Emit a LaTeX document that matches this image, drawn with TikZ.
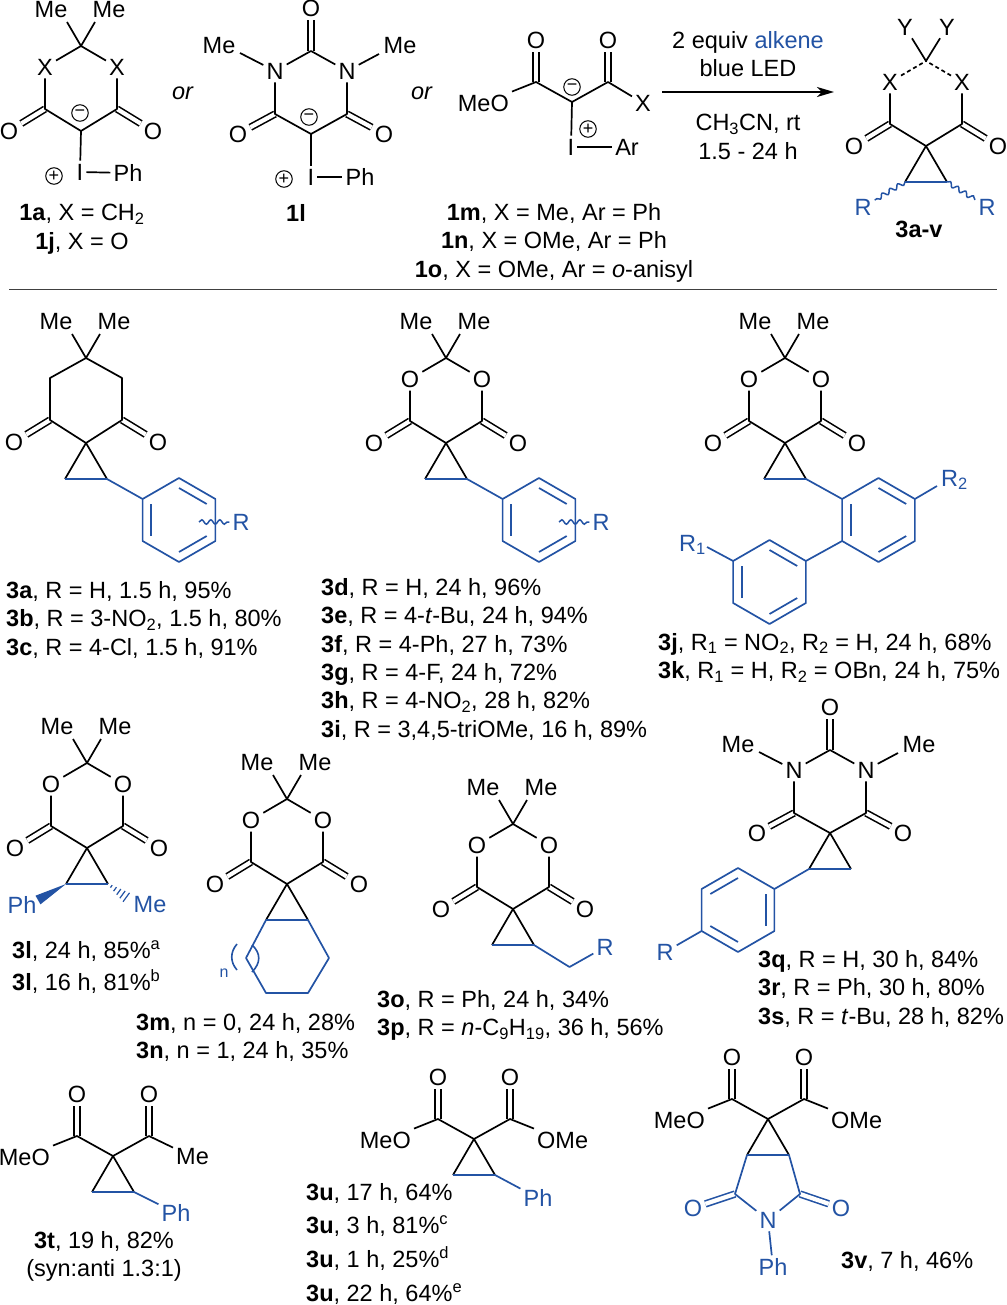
\documentclass[tikz,border=0pt]{standalone}
\usepackage{fontspec}
\setmainfont{Liberation Sans}
\usetikzlibrary{arrows.meta,calc,decorations.pathmorphing}
\definecolor{alkene}{HTML}{2353A4}

\tikzset{
  every node/.style={font=\fontsize{23.5}{28.4}\selectfont},
  bond/.style={draw,line width=1.7pt,line join=round},
  dashbond/.style={bond,dash pattern=on 4pt off 3pt},
  bluebond/.style={bond,alkene},
  dbl/.style={draw,double,double distance=4.2pt,line width=1.6pt},
  dblblue/.style={dbl,alkene},
  wavy/.style={draw,alkene,line width=1.5pt,decorate,decoration={snake,amplitude=2.2pt,segment length=9pt}},
  atom/.style={inner sep=3pt},
  atomblue/.style={atom,text=alkene},
  charge/.style={circle,draw,line width=1pt,inner sep=0pt,minimum size=16.5pt,font=\fontsize{18}{18}\selectfont},
  yieldtext/.style={anchor=north west,align=left,inner sep=0pt},
  midtext/.style={anchor=north,align=center,inner sep=0pt}
}

\newcommand{\dione}[4][bond]{
  \begin{scope}[shift={#2},name prefix=#3-]
    \coordinate (s) at (0,0);
    \coordinate (t) at (0,-85);
    \coordinate (cl) at (-36,-22);
    \coordinate (cr) at (36,-22);
    \node[atom] (hl) at (-36,-64) {#4};
    \node[atom] (hr) at (36,-64) {#4};
    \node[atom] (ol) at (-72,0) {O};
    \node[atom] (or) at (72,0) {O};
    \draw[dbl] (cl) -- (ol);
    \draw[dbl] (cr) -- (or);
    \draw[#1] (hl) -- (t);
    \draw[#1] (hr) -- (t);
    \draw[bond] (hl) -- (cl) -- (s) -- (cr) -- (hr);
  \end{scope}}
\newcommand{\gemMe}[1]{
  \begin{scope}[shift={(#1-s)},name prefix=#1-]
    \node[atom] (mel) at (-30,-121) {Me};
    \node[atom] (mer) at (28,-121) {Me};
    \coordinate (el) at (-14,-109);
    \coordinate (er) at (14,-109);
    \draw[bond] (el) -- (t) -- (er);
  \end{scope}}
\newcommand{\barb}[2]{
  \begin{scope}[shift={#1},name prefix=#2-]
    \coordinate (s) at (0,0);
    \coordinate (t) at (0,-83);
    \coordinate (cl) at (-36,-20);
    \coordinate (cr) at (36,-20);
    \coordinate (el) at (-71,-81);
    \coordinate (er) at (68,-80);
    \node[atom] (hl) at (-36,-63) {N};
    \node[atom] (hr) at (36,-63) {N};
    \node[atom] (ot) at (0,-126) {O};
    \node[atom] (ol) at (-73,0) {O};
    \node[atom] (or) at (73,0) {O};
    \node[atom] (mel) at (-92,-88) {Me};
    \node[atom] (mer) at (89,-88) {Me};
    \draw[dbl] (cl) -- (ol);
    \draw[dbl] (cr) -- (or);
    \draw[dbl] (t) -- (ot);
    \draw[bond] (hl) -- (t) -- (hr);
    \draw[bond] (hl) -- (cl) -- (s) -- (cr) -- (hr);
    \draw[bond] (hl) -- (el);
    \draw[bond] (hr) -- (er);
  \end{scope}}
\newcommand{\diacyl}[4]{
  \begin{scope}[shift={#1},name prefix=#2-]
    \coordinate (s) at (0,0);
    \coordinate (cl) at (-36,-20);
    \coordinate (cr) at (36,-20);
    \node[atom] (ol) at (-36,-62) {O};
    \node[atom] (or) at (36,-62) {O};
    \node[atom,anchor=east] (gl) at (-60,1) {#3};
    \node[atom,anchor=west] (gr) at (60,1) {#4};
    \draw[dbl] (cl) -- (ol);
    \draw[dbl] (cr) -- (or);
    \draw[bond] (gl) -- (cl) -- (s) -- (cr) -- (gr);
  \end{scope}}
\newcommand{\cyclopr}[1]{
  \begin{scope}[shift={(#1-s)},name prefix=#1-]
    \coordinate (pl) at (-21,36);
    \coordinate (pr) at (21,36);
    \draw[bond] (pl) -- (s) -- (pr);
    \draw[bluebond] (pl) -- (pr);
  \end{scope}}
\newcommand{\arene}[3]{
  \begin{scope}[shift={#1},name prefix=#2-]
    \foreach \a in {30,90,...,330} \coordinate (v\a) at (\a:42);
    \draw[bluebond] (v30) -- (v90) -- (v150) -- (v210) -- (v270) -- (v330) -- cycle;
    \foreach \a in {0,120,240} \draw[bluebond] (#3+\a:32) -- (#3+\a+60:32);
  \end{scope}}

\begin{document}
\begin{tikzpicture}[x=1pt,y=-1pt]
  \useasboundingbox (0,0) rectangle (1006,1305);

  \dione{(81,131)}{ia}{X}
  \gemMe{ia}
  \node[charge] (ia-neg) at (80,113) {−};
  \node[atom] (ia-i) at (80,172) {I};
  \node[atom] (ia-ph) at (128,173) {Ph};
  \node[charge] (ia-pos) at (54,176) {+};
  \draw[bond] (ia-s) -- (ia-i);
  \draw[bond] (ia-i) -- (ia-ph);
  \node[midtext] (cap1a) at (82,204) {\textbf{1a}, X = CH\textsubscript{2}\\\textbf{1j}, X = O};
  \node[atom] (or1) at (183,93) {\textit{or}};

  \barb{(311,134)}{il}
  \node[charge] (il-neg) at (309,117) {−};
  \node[atom] (il-i) at (311,177) {I};
  \node[atom] (il-ph) at (360,177) {Ph};
  \node[charge] (il-pos) at (284,179) {+};
  \draw[bond] (il-s) -- (il-i);
  \draw[bond] (il-i) -- (il-ph);
  \node[midtext] (cap1l) at (296,204) {\textbf{1l}};
  \node[atom] (or2) at (422,93) {\textit{or}};

  \diacyl{(572,102)}{im}{MeO}{X}
  \node[charge] (im-neg) at (572,87) {−};
  \node[atom] (im-i) at (571,147) {I};
  \node[atom] (im-ar) at (627,147) {Ar};
  \node[charge] (im-pos) at (588,129) {+};
  \draw[bond] (im-s) -- (im-i);
  \draw[bond] (im-i) -- (im-ar);
  \node[midtext] (cap1m) at (554,203) {\textbf{1m}, X = Me, Ar = Ph\\\textbf{1n}, X = OMe, Ar = Ph\\\textbf{1o}, X = OMe, Ar = \textit{o}-anisyl};

  \coordinate (arrowstart) at (662,92);
  \coordinate (arrowend) at (834,92);
  \draw[line width=1.6pt,-{Stealth[length=17pt,width=10pt,inset=5pt]}] (arrowstart) -- (arrowend);
  \node[midtext] (above) at (748,31) {2 equiv \textcolor{alkene}{alkene}\\blue LED};
  \node[midtext] (below) at (748,114) {CH\textsubscript{3}CN, rt\\1.5 - 24 h};

  \dione[dashbond]{(926,146)}{p}{X}
  \cyclopr{p}
  \node[atom] (p-yl) at (905,27) {Y};
  \node[atom] (p-yr) at (947,27) {Y};
  \draw[bond] (p-yl) -- (p-t) -- (p-yr);
  \node[atomblue] (p-rl) at (863,207) {R};
  \node[atomblue] (p-rr) at (987,207) {R};
  \draw[wavy] (p-pl) -- (p-rl);
  \draw[wavy] (p-pr) -- (p-rr);
  \node[midtext] (cap3av) at (919,221) {\textbf{3a-v}};

  \coordinate (rulel) at (9,290);
  \coordinate (ruler) at (997,290);
  \draw[line width=1pt,black!75] (rulel) -- (ruler);

  \coordinate (a-s) at (86,443);
  \coordinate (a-t) at (86,358);
  \coordinate (a-ul) at (50,378);
  \coordinate (a-ur) at (122,378);
  \coordinate (a-ll) at (50,420);
  \coordinate (a-lr) at (122,420);
  \node[atom] (a-ol) at (14,442) {O};
  \node[atom] (a-or) at (158,442) {O};
  \draw[dbl] (a-ll) -- (a-ol);
  \draw[dbl] (a-lr) -- (a-or);
  \draw[bond] (a-s) -- (a-ll) -- (a-ul) -- (a-t) -- (a-ur) -- (a-lr) -- cycle;
  \gemMe{a}
  \cyclopr{a}
  \arene{(179,520)}{aar}{30}
  \draw[bluebond] (a-pr) -- (aar-v210);
  \coordinate (a-w) at (199,522);
  \node[atomblue] (a-r) at (241,522) {R};
  \draw[wavy] (a-w) -- (a-r);
  \node[yieldtext] (cap3a) at (6,581) {\textbf{3a}, R = H, 1.5 h, 95\%\\\textbf{3b}, R = 3-NO\textsubscript{2}, 1.5 h, 80\%\\\textbf{3c}, R = 4-Cl, 1.5 h, 91\%};

  \dione{(446,443)}{d}{O}
  \gemMe{d}
  \cyclopr{d}
  \arene{(539,520)}{dar}{30}
  \draw[bluebond] (d-pr) -- (dar-v210);
  \coordinate (d-w) at (559,522);
  \node[atomblue] (d-r) at (601,522) {R};
  \draw[wavy] (d-w) -- (d-r);
  \node[yieldtext] (cap3d) at (321,578) {\textbf{3d}, R = H, 24 h, 96\%\\\textbf{3e}, R = 4-\textit{t}-Bu, 24 h, 94\%\\\textbf{3f}, R = 4-Ph, 27 h, 73\%\\\textbf{3g}, R = 4-F, 24 h, 72\%\\\textbf{3h}, R = 4-NO\textsubscript{2}, 28 h, 82\%\\\textbf{3i}, R = 3,4,5-triOMe, 16 h, 89\%};

  \dione{(785,443)}{j}{O}
  \gemMe{j}
  \cyclopr{j}
  \arene{(878.5,520)}{jar}{30}
  \arene{(769.5,582)}{jbr}{30}
  \draw[bluebond] (j-pr) -- (jar-v210);
  \draw[bluebond] (jar-v150) -- (jbr-v330);
  \coordinate (j-e2) at (937,486);
  \coordinate (j-e1) at (707,547);
  \draw[bluebond] (jar-v330) -- (j-e2);
  \draw[bluebond] (jbr-v210) -- (j-e1);
  \node[anchor=base west,inner sep=0pt,text=alkene] (j-r2) at (941,486) {R\textsubscript{2}};
  \node[anchor=base west,inner sep=0pt,text=alkene] (j-r1) at (679,551) {R\textsubscript{1}};
  \node[yieldtext] (cap3j) at (658,633) {\textbf{3j}, R\textsubscript{1} = NO\textsubscript{2}, R\textsubscript{2} = H, 24 h, 68\%\\\textbf{3k}, R\textsubscript{1} = H, R\textsubscript{2} = OBn, 24 h, 75\%};

  \dione{(87,848)}{l}{O}
  \gemMe{l}
  \cyclopr{l}
  \node[atomblue] (l-ph) at (22,905) {Ph};
  \node[atomblue] (l-me) at (150,905) {Me};
  \coordinate (l-we) at (38,900);
  \coordinate (l-ha) at (130,900);
  \fill[alkene] (l-pl) -- ($(l-we)!5pt!90:(l-pl)$) -- ($(l-we)!5pt!-90:(l-pl)$) -- cycle;
  \foreach \t/\w in {.15/1.5,.32/2.5,.49/3.5,.66/4.5,.83/5.5,1/6.5}
    \draw[alkene,line width=1.2pt] ($(l-pr)!\t!(l-ha)!\w pt!90:(l-ha)$) -- ($(l-pr)!\t!(l-ha)!\w pt!-90:(l-ha)$);
  \node[yieldtext] (cap3l) at (12,940) {\textbf{3l}, 24 h, 85\%\textsuperscript{a}\\[4.5pt]\textbf{3l}, 16 h, 81\%\textsuperscript{b}};

  \dione{(287,884)}{m}{O}
  \gemMe{m}
  \cyclopr{m}
  \coordinate (m-c3) at (329,958);
  \coordinate (m-c4) at (308,993);
  \coordinate (m-c5) at (266,993);
  \coordinate (m-c6) at (246,958);
  \draw[bluebond] (m-pr) -- (m-c3) -- (m-c4) -- (m-c5) -- (m-c6) -- (m-pl);
  \draw[alkene,line width=1.6pt] (237,944) .. controls (230,952) and (230,962) .. (237,970);
  \draw[alkene,line width=1.6pt] (252,945) .. controls (261,953) and (261,963) .. (252,972);
  \node[inner sep=0pt,text=alkene,font=\fontsize{16}{16}\selectfont] (m-n) at (224,973) {n};
  \node[yieldtext] (cap3m) at (136,1013) {\textbf{3m}, n = 0, 24 h, 28\%\\\textbf{3n}, n = 1, 24 h, 35\%};

  \dione{(513,909)}{o}{O}
  \gemMe{o}
  \cyclopr{o}
  \coordinate (o-ch) at (569.5,967);
  \node[atomblue] (o-r) at (605,947) {R};
  \draw[bluebond] (o-pr) -- (o-ch) -- (o-r);
  \node[yieldtext] (cap3o) at (377,990) {\textbf{3o}, R = Ph, 24 h, 34\%\\\textbf{3p}, R = \textit{n}-C\textsubscript{9}H\textsubscript{19}, 36 h, 56\%};

  \barb{(830,833)}{q}
  \cyclopr{q}
  \arene{(738,910)}{qar}{90}
  \draw[bluebond] (q-pl) -- (qar-v330);
  \node[atomblue] (q-r) at (665,952) {R};
  \draw[bluebond] (qar-v150) -- (q-r);
  \node[yieldtext] (cap3q) at (758,950) {\textbf{3q}, R = H, 30 h, 84\%\\\textbf{3r}, R = Ph, 30 h, 80\%\\\textbf{3s}, R = \textit{t}-Bu, 28 h, 82\%};

  \diacyl{(113,1156)}{t}{MeO}{Me}
  \cyclopr{t}
  \node[atomblue] (t-ph) at (176,1213) {Ph};
  \draw[bluebond] (t-pr) -- (t-ph);
  \node[midtext] (cap3t) at (104,1231) {\textbf{3t}, 19 h, 82\%\\(syn:anti 1.3:1)};

  \diacyl{(474,1139)}{u}{MeO}{OMe}
  \cyclopr{u}
  \node[atomblue] (u-ph) at (538,1198) {Ph};
  \draw[bluebond] (u-pr) -- (u-ph);
  \node[yieldtext] (cap3u) at (306,1183) {\textbf{3u}, 17 h, 64\%\\[5.2pt]\textbf{3u}, 3 h, 81\%\textsuperscript{c}\\[5.2pt]\textbf{3u}, 1 h, 25\%\textsuperscript{d}\\[5.2pt]\textbf{3u}, 22 h, 64\%\textsuperscript{e}};

  \diacyl{(768,1119)}{v}{MeO}{OMe}
  \cyclopr{v}
  \coordinate (v-cl2) at (735,1194);
  \coordinate (v-cr2) at (800,1194);
  \node[atomblue] (v-n) at (768,1220) {N};
  \node[atomblue] (v-ol2) at (693,1208) {O};
  \node[atomblue] (v-or2) at (841,1208) {O};
  \node[atomblue] (v-ph) at (773,1267) {Ph};
  \draw[dblblue] (v-cl2) -- (v-ol2);
  \draw[dblblue] (v-cr2) -- (v-or2);
  \draw[bluebond] (v-pl) -- (v-cl2) -- (v-n) -- (v-cr2) -- (v-pr);
  \draw[bluebond] (v-n) -- (v-ph);
  \node[yieldtext] (cap3v) at (841,1251) {\textbf{3v}, 7 h, 46\%};
\end{tikzpicture}
\end{document}
